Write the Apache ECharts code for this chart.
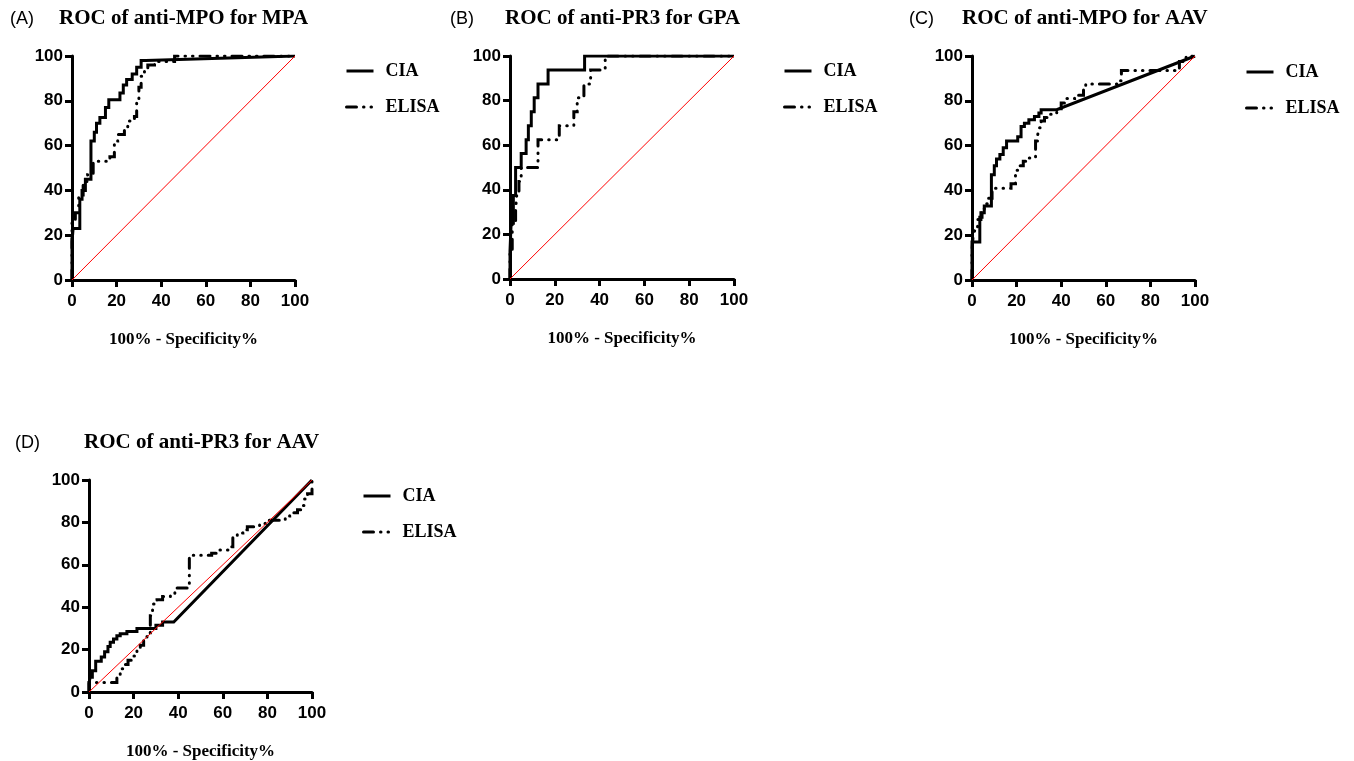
<!DOCTYPE html>
<html lang="en">
<head>
    <meta charset="UTF-8">
    <title>ROC curves</title>
    <style>
        * { margin: 0; padding: 0; }
        body { background: #fff; }
    </style>
    <script src="https://cdn.jsdelivr.net/npm/echarts@6/dist/echarts.min.js"></script>
</head>
<body>
    <div id="chart" style="width:1354px;height:761px;"></div>
    <script>
        // ROC points [100% - specificity, sensitivity]
        var ciaA = [[0,0],[0,17],[0.5,17],[0.5,23],[3.5,23],[3.5,36],[4.5,36],[4.5,40],[6,40],[6,45],[8.5,45],[8.5,62],[10,62],[10,66],[11,66],[11,70],[12.5,70],[12.5,72.5],[15,72.5],[15,77],[16.5,77],[16.5,80.5],[21.5,80.5],[21.5,83.5],[23,83.5],[23,87],[24.5,87],[24.5,89.5],[27,89.5],[27,92],[29,92],[29,95],[31,95],[31,98],[33,98],[100,100]]
        var elisaA = [[0,0],[0,27],[1.5,27],[1.5,30],[3,30],[3,38],[5,38],[5,44],[7,44],[7,47],[9.5,47],[9.5,53],[17,53],[17,55],[19,55],[19,62],[20.5,62],[20.5,65],[23.5,65],[23.5,68],[25,68],[25,71],[28,71],[28,73],[29,73],[29,81],[30,81],[30,86],[31,86],[31,91],[32.5,91],[32.5,94],[34,94],[34,96],[37,96],[37,97.5],[46,97.5],[46,100],[100,100]]

        var ciaB = [[0,0],[0,12.5],[0.5,12.5],[0.5,25],[1.5,25],[1.5,37.5],[2.5,37.5],[2.5,50],[5,50],[5,56.25],[7.2,56.25],[7.2,62.5],[8.2,62.5],[8.2,68.75],[9.5,68.75],[9.5,75],[10.8,75],[10.8,81.25],[12.5,81.25],[12.5,87.5],[17,87.5],[17,93.75],[33.3,93.75],[33.3,100],[100,100]]
        var elisaB = [[0,0],[0,12.5],[1,12.5],[1,25],[2.5,25],[2.5,31.25],[3,31.25],[3,37.5],[4,37.5],[4,43.75],[5,43.75],[5,50],[12.5,50],[12.5,62.5],[22,62.5],[22,68.75],[28.5,68.75],[28.5,75],[30,75],[30,81.25],[33,81.25],[33,87.5],[36,87.5],[36,93.75],[42.5,93.75],[42.5,100],[100,100]]

        var ciaC = [[0,0],[0,17],[3.5,17],[3.5,28],[4.5,28],[4.5,30],[5.5,30],[5.5,33],[8.7,33],[8.7,47],[10,47],[10,51],[11,51],[11,54],[12.5,54],[12.5,56],[14,56],[14,59],[15.5,59],[15.5,62],[20.5,62],[20.5,64],[22,64],[22,68.5],[23.5,68.5],[23.5,70],[25.5,70],[25.5,71.5],[28,71.5],[28,73],[30,73],[30,74.5],[31,74.5],[31,76],[38,76],[100,100]]
        var elisaC = [[0,0],[0,13],[0.5,13],[0.5,20],[1.2,20],[1.2,22],[2.5,22],[2.5,27],[4,27],[4,30],[5.5,30],[5.5,34],[7,34],[7,36.5],[9,36.5],[9,41],[17.5,41],[17.5,43],[19.5,43],[19.5,49],[21,49],[21,51],[23,51],[23,53],[25,53],[25,54.5],[28.5,54.5],[28.5,62],[29.5,62],[29.5,65],[30,65],[30,68],[31,68],[31,71],[32.5,71],[32.5,72.5],[35,72.5],[35,74],[38,74],[38,76.5],[40,76.5],[40,79],[41.5,79],[41.5,81],[46,81],[46,82.5],[50,82.5],[50,85.5],[51,85.5],[51,87.5],[65.5,87.5],[65.5,89],[67,89],[67,93.5],[93,93.5],[93,97.5],[96,97.5],[96,100],[100,100]]

        var ciaD = [[0,0],[0,4],[0.5,4],[0.5,7],[1.5,7],[1.5,10],[3,10],[3,14.5],[5.5,14.5],[5.5,16.5],[7,16.5],[7,19],[8.5,19],[8.5,21.5],[9.5,21.5],[9.5,23.5],[11,23.5],[11,25],[12.5,25],[12.5,26.5],[14,26.5],[14,27.5],[17,27.5],[17,28.5],[21.5,28.5],[21.5,30],[30,30],[30,31.5],[33,31.5],[33,33],[38,33],[100,100]]
        var elisaD = [[0,0],[0,4.5],[12.5,4.5],[12.5,8],[14,8],[14,11],[15.5,11],[15.5,13],[17.5,13],[17.5,15],[19.5,15],[19.5,17],[21.5,17],[21.5,19.5],[23,19.5],[23,22],[24.5,22],[24.5,25],[26,25],[26,28],[27.5,28],[27.5,36],[28.5,36],[28.5,41.5],[30.5,41.5],[30.5,43.5],[33,43.5],[33,45],[36.5,45],[36.5,46.5],[38.5,46.5],[38.5,49],[45,49],[45,64.5],[55,64.5],[55,65.5],[58,65.5],[58,67],[62.5,67],[62.5,68.5],[64.5,68.5],[64.5,73],[66.5,73],[66.5,75],[69,75],[69,76.5],[71,76.5],[71,78],[76.5,78],[76.5,79.5],[79,79.5],[79,81],[88,81],[88,83],[90,83],[90,84.5],[93.5,84.5],[93.5,86],[95,86],[95,88],[96.5,88],[96.5,91],[98,91],[98,93.5],[100,93.5],[100,100]]

        var reference = [[0,0],[100,100]]
        var panelLetters = ['(A)', '(B)', '(C)', '(D)']
        var panelTitles = ['ROC of anti-MPO for MPA', 'ROC of anti-PR3 for GPA', 'ROC of anti-MPO for AAV', 'ROC of anti-PR3 for AAV']
        var xTitle = '100% - Specificity%'
        var seriesNames = ['CIA', 'ELISA']

        var curves = [[ciaA, elisaA], [ciaB, elisaB], [ciaC, elisaC], [ciaD, elisaD]]

        // layout (pixels)
        var grids = [
            { left: 72, top: 56, width: 223, height: 224 },
            { left: 510, top: 56, width: 224, height: 223 },
            { left: 972, top: 56, width: 223, height: 224 },
            { left: 89, top: 480, width: 223, height: 223 }
        ]
        var letterPos = [[10, 19], [450, 19], [909, 19], [15, 443]]
        var titlePos = [[59, 19], [505, 19], [962, 19], [84, 443]]
        var legendPos = [[345, 62], [783, 62], [1245, 63], [362, 487]]

        var serif = '"Liberation Serif", "Times New Roman", serif'
        var sans = '"Liberation Sans", Arial, sans-serif'
        var elisaDash = [10, 7, 0.5, 7, 0.5, 7]

        var chart = echarts.init(document.getElementById('chart'))

        var titles = []
        var legends = []
        var xAxes = []
        var yAxes = []
        var series = []

        function axis(i, isX) {
            var a = {
                type: 'value',
                gridIndex: i,
                min: 0,
                max: 100,
                interval: 20,
                splitLine: { show: false },
                axisLine: { show: true, lineStyle: { color: '#000', width: 3 } },
                axisTick: { show: true, length: 7, lineStyle: { color: '#000', width: 3 } },
                axisLabel: {
                    color: '#000', fontFamily: sans, fontWeight: 'bold', fontSize: 17,
                    margin: isX ? 13 : 9
                }
            }
            if (isX) {
                a.name = xTitle
                a.nameLocation = 'middle'
                a.nameGap = 51
                a.nameTextStyle = { color: '#000', fontFamily: serif, fontWeight: 'bold', fontSize: 17 }
            }
            return a
        }

        for (var i = 0; i < 4; i++) {
            titles.push({
                text: panelLetters[i], left: letterPos[i][0], top: letterPos[i][1] - 10, padding: 0,
                textStyle: { color: '#000', fontFamily: sans, fontWeight: 'normal', fontSize: 18, lineHeight: 20 }
            })
            titles.push({
                text: panelTitles[i], left: titlePos[i][0], top: titlePos[i][1] - 11, padding: 0,
                textStyle: { color: '#000', fontFamily: serif, fontWeight: 'bold', fontSize: 21, lineHeight: 22 }
            })
            legends.push({
                data: seriesNames,
                orient: 'vertical',
                left: legendPos[i][0],
                top: legendPos[i][1],
                padding: 0,
                itemWidth: 27,
                itemHeight: 14,
                itemGap: 18,
                selectedMode: false,
                // hide the marker that ECharts puts in the middle of line icons
                itemStyle: { opacity: 0, borderWidth: 0 },
                lineStyle: { width: 3, opacity: 1 },
                textStyle: { color: '#000', fontFamily: serif, fontWeight: 'bold', fontSize: 18, padding: [0, 0, 0, 7] }
            })
            xAxes.push(axis(i, true))
            yAxes.push(axis(i, false))

            series.push({
                name: seriesNames[0], type: 'line', xAxisIndex: i, yAxisIndex: i,
                data: curves[i][0], symbol: 'none', showSymbol: false, animation: false,
                lineStyle: { color: '#000', width: 3, join: 'miter' },
                itemStyle: { color: '#000' }
            })
            series.push({
                name: seriesNames[1], type: 'line', xAxisIndex: i, yAxisIndex: i,
                data: curves[i][1], symbol: 'none', showSymbol: false, animation: false,
                lineStyle: { color: '#000', width: 3, type: elisaDash, cap: 'round', join: 'miter' },
                itemStyle: { color: '#000' }
            })
            series.push({
                name: 'reference', type: 'line', xAxisIndex: i, yAxisIndex: i,
                data: reference, symbol: 'none', showSymbol: false, animation: false, silent: true,
                lineStyle: { color: '#ff0000', width: 1 }
            })
        }

        chart.setOption({
            backgroundColor: '#fff',
            animation: false,
            title: titles,
            legend: legends,
            grid: grids,
            xAxis: xAxes,
            yAxis: yAxes,
            series: series
        })
    </script>
</body>
</html>
